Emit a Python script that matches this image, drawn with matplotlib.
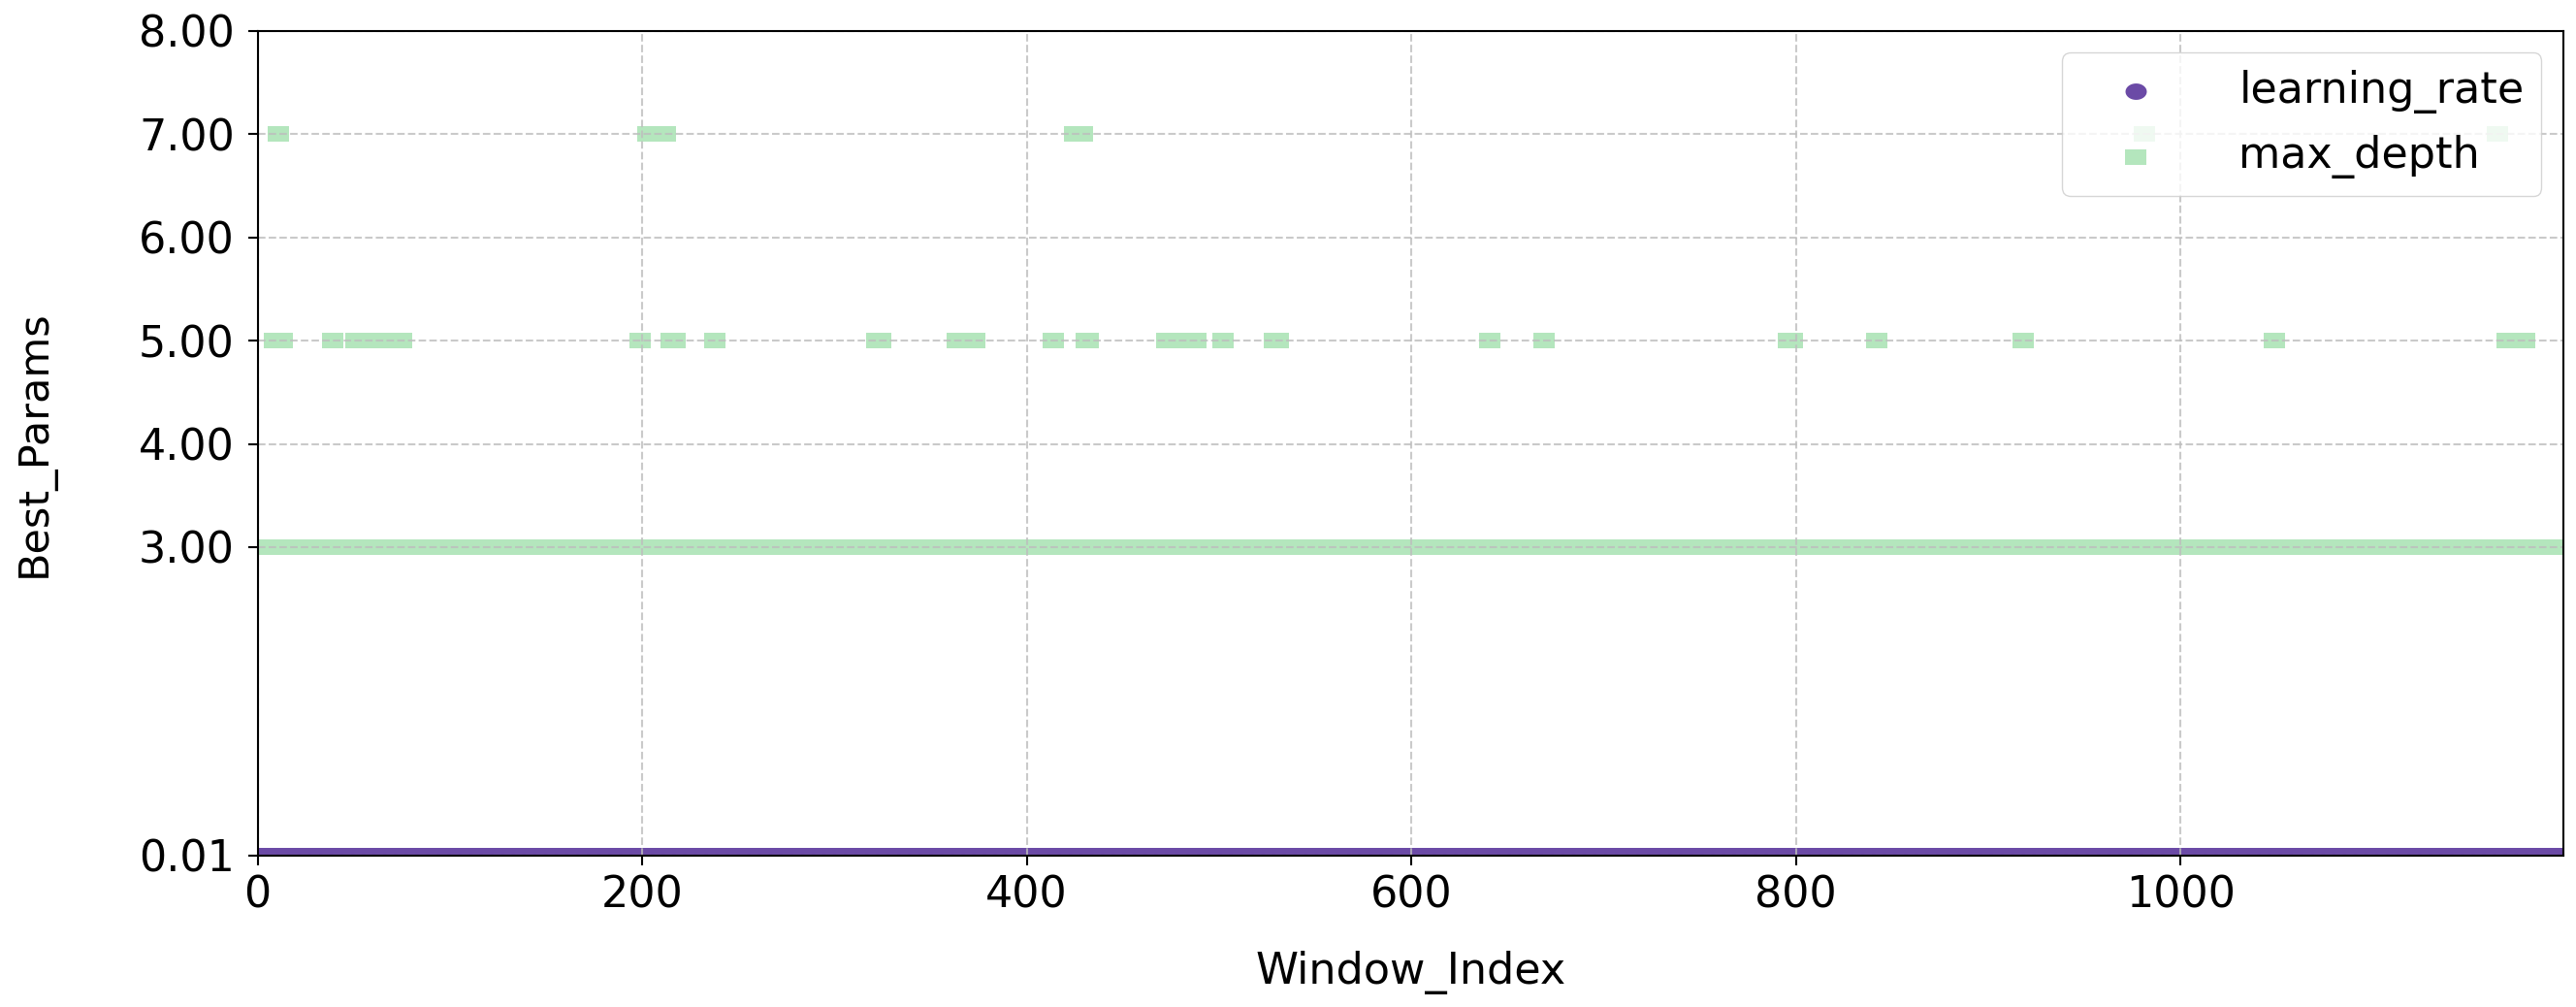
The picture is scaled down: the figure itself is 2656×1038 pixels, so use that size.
import numpy as np
import matplotlib
matplotlib.use("Agg")
import matplotlib.pyplot as plt
from matplotlib.ticker import FormatStrFormatter

# windows 0..1199, best params per window
n_windows = 1200
learning_rate_value = 0.01
max_depth_default = 3
depth5_idx = [9, 13, 39, 51, 55, 59, 63, 67, 71, 75, 199, 215, 217, 238,
              322, 324, 364, 368, 373, 414, 431, 432, 473, 477, 481, 485, 488,
              502, 529, 531, 641, 669, 796, 798, 842, 918, 1049,
              1170, 1174, 1179]
depth7_idx = [11, 203, 206, 209, 212, 425, 429, 981, 1165]

yticks = [0.01, 3, 4, 5, 6, 7, 8]
xticks = [0, 200, 400, 600, 800, 1000]

window_index = np.arange(n_windows)
learning_rate = np.full(n_windows, learning_rate_value)
max_depth = np.full(n_windows, max_depth_default, dtype=float)
max_depth[depth5_idx] = 5
max_depth[depth7_idx] = 7

purple = "#6b4aa6"
green = "#b4e6bd"

# the source image is a bit wider than tall, so markers are too
wide_square = [(-1.3, -1), (1.3, -1), (1.3, 1), (-1.3, 1), (-1.3, -1)]
t = np.linspace(0, 2 * np.pi, 60)
wide_circle = list(zip(1.3 * np.cos(t), np.sin(t)))

fig = plt.figure(figsize=(26.56, 10.38), dpi=100)
ax = fig.add_axes([0.100, 0.1503, 0.895, 0.8189])

ax.scatter(window_index, learning_rate, s=250, marker=wide_circle, color=purple,
           linewidths=0, label="learning_rate")
ax.scatter(window_index, max_depth, s=250, marker=wide_square, color=green,
           linewidths=0, label="max_depth")

ax.set_xlim(0, n_windows - 1)
ax.set_ylim(0.01, 8)
ax.set_yticks(yticks)
ax.set_xticks(xticks)
ax.yaxis.set_major_formatter(FormatStrFormatter("%.2f"))

ax.set_axisbelow(False)
ax.grid(True, linestyle="--", color="#bdbdbd", linewidth=1.5, alpha=0.8)

for sp in ax.spines.values():
    sp.set_linewidth(1.5)
    sp.set_zorder(5)
ax.tick_params(axis="both", labelsize=32, length=7, width=1.5)
ax.tick_params(axis="y", pad=10)
ax.tick_params(axis="x", pad=7)

ax.set_xlabel("Window_Index", fontsize=32)
ax.set_ylabel("Best_Params", fontsize=31)
ax.xaxis.set_label_coords(0.5, -0.115)
ax.yaxis.set_label_coords(-0.088, 0.5)

ax.legend(loc="upper right", fontsize=32, handlelength=2.6, handletextpad=1.1)

fig.savefig("out.png", dpi=100)
